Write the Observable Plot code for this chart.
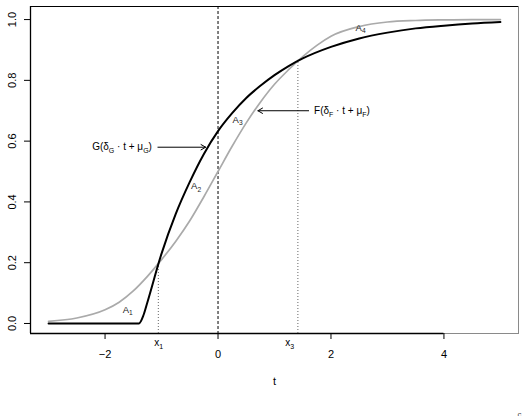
<!DOCTYPE html>
<html>
<head>
<meta charset="utf-8">
<script src="https://cdn.jsdelivr.net/npm/d3@7"></script>
<script src="https://cdn.jsdelivr.net/npm/@observablehq/plot@0.6"></script>
<style>
  html, body { margin: 0; padding: 0; background: #fff; }
</style>
</head>
<body>
<script>
// ---- data ----
const tF = [-3, -2.5, -2, -1.75, -1.5, -1.25, -1, -0.75, -0.5, -0.25, 0, 0.25, 0.5, 0.75, 1, 1.25, 1.5, 1.75, 2, 2.5, 3, 3.5, 4, 4.5, 5];
const F  = [0.007, 0.018, 0.045, 0.07, 0.107, 0.155, 0.21, 0.27, 0.338, 0.417, 0.5, 0.583, 0.66, 0.728, 0.787, 0.835, 0.878, 0.915, 0.945, 0.977, 0.992, 0.997, 0.999, 1.0, 1.0];

const tG = [-3, -2, -1.4, -1.32, -1.25, -1.0, -0.75, -0.5, -0.25, 0, 0.25, 0.5, 0.75, 1.0, 1.25, 1.5, 2.0, 2.5, 3.0, 3.5, 4.0, 4.5, 5.0];
const G  = [0, 0, 0, 0.027, 0.07, 0.23, 0.36, 0.466, 0.558, 0.633, 0.692, 0.742, 0.782, 0.817, 0.847, 0.872, 0.91, 0.938, 0.957, 0.971, 0.98, 0.987, 0.992];

const xTicks = [-2, 0, 2, 4];
const xTickLabels = ["\u22122", "0", "2", "4"];
const yTicks = [0, 0.2, 0.4, 0.6, 0.8, 1.0];
const yTickLabels = ["0.0", "0.2", "0.4", "0.6", "0.8", "1.0"];
const xDomain = [-3.32, 5.32];
const yDomain = [-0.033, 1.043];

// intersection markers
const crossT = [-1.057, 1.414];
const crossY = [0.2, 0.866];
const crossLabels = ["x_{1}", "x_{3}"];
const crossLabelT = [-1.05, 1.27];

// area labels
const areaLabels = ["A_{1}", "A_{2}", "A_{3}", "A_{4}"];
const areaT = [-1.6, -0.388, 0.347, 2.524];
const areaY = [0.046, 0.4525, 0.671, 0.974];

// curve annotations with arrows
const annLabels = ["G(\u03b4_{G} \u00b7 t + \u03bc_{G})", "F(\u03b4_{F} \u00b7 t + \u03bc_{F})"];
const annTextT = [-1.17, 1.70];
const annY = [0.58, 0.70];
const annAnchor = ["end", "start"];
const arrowFromT = [-1.064, 1.604];
const arrowToT = [-0.219, 0.706];

// ---- build tables ----
const fData = tF.map((t, i) => ({t, v: F[i]}));
const gData = tG.map((t, i) => ({t, v: G[i]}));
const crossData = crossT.map((t, i) => ({t, y: crossY[i], lab: crossLabels[i], lt: crossLabelT[i]}));
const areaData = areaLabels.map((lab, i) => ({lab, t: areaT[i], y: areaY[i]}));
const annData = annLabels.map((lab, i) => ({lab, t: annTextT[i], y: annY[i], anchor: annAnchor[i], a1: arrowFromT[i], a2: arrowToT[i]}));

const font = "'Liberation Sans', Arial, Helvetica, sans-serif";

const chart = Plot.plot({
  width: 530,
  height: 416,
  marginLeft: 30,
  marginRight: 12,
  marginTop: 6,
  marginBottom: 83,
  style: {fontFamily: font, fontSize: "11px", background: "#fff", color: "#000"},
  x: {domain: xDomain, axis: null},
  y: {domain: yDomain, axis: null},
  marks: [
    // box
    Plot.frame({stroke: "#8a8a8a", strokeWidth: 1}),
    Plot.ruleX([xDomain[0]], {stroke: "#000", strokeWidth: 1.3}),
    Plot.ruleY([yDomain[1]], {stroke: "#000", strokeWidth: 1}),
    Plot.ruleY([yDomain[0]], {x1: xDomain[0], x2: xTicks[xTicks.length - 1], stroke: "#000", strokeWidth: 1.3}),
    // axes ticks
    Plot.axisX({ticks: xTicks, tickSize: 6, tickFormat: () => "", label: null}),
    Plot.axisY({ticks: yTicks, tickSize: 6, tickFormat: () => "", label: null}),
    // tick labels
    Plot.text(xTicks, {x: d => d, text: (d, i) => xTickLabels[i], frameAnchor: "bottom", dy: 21.3, lineAnchor: "middle", fontSize: 11, fill: "#000"}),
    Plot.text(yTicks, {y: d => d, text: (d, i) => yTickLabels[i], frameAnchor: "left", dx: -18, rotate: -90, lineAnchor: "middle", textAnchor: "middle", fontSize: 11, fill: "#000"}),
    Plot.text(["t"], {frameAnchor: "bottom", dy: 47.7, lineAnchor: "middle", fontSize: 11, fill: "#000"}),
    // vertical dashed at t = 0
    Plot.ruleX([0], {stroke: "#000", strokeWidth: 1, strokeDasharray: "3,2"}),
    // dotted drops at intersections
    Plot.ruleX(crossData, {x: "t", y1: yDomain[0], y2: "y", stroke: "#666", strokeWidth: 1, strokeDasharray: "1,2"}),
    Plot.text(crossData, {x: "lt", text: "lab", frameAnchor: "bottom", dy: 9, lineAnchor: "middle", fontSize: 10, fill: "#000"}),
    // curves
    Plot.line(fData, {x: "t", y: "v", stroke: "#aaaaaa", strokeWidth: 1.7, curve: "monotone-x"}),
    Plot.line(gData, {x: "t", y: "v", stroke: "#000", strokeWidth: 2, curve: "monotone-x"}),
    // area labels
    Plot.text(areaData, {x: "t", y: "y", text: "lab", fontSize: 9.5, fill: "#222", lineAnchor: "middle"}),
    // annotations + arrows
    Plot.arrow(annData, {x1: "a1", x2: "a2", y1: "y", y2: "y", stroke: "#000", strokeWidth: 1, headLength: 8, headAngle: 60}),
    Plot.text(annData.filter(d => d.anchor === "end"), {x: "t", y: "y", text: "lab", textAnchor: "end", lineAnchor: "middle", fontSize: 10, fill: "#000"}),
    Plot.text(annData.filter(d => d.anchor === "start"), {x: "t", y: "y", text: "lab", textAnchor: "start", lineAnchor: "middle", fontSize: 10, fill: "#000"}),
    // tiny glyph at the bottom-right edge (clipped in the reference too)
    Plot.text(["c"], {frameAnchor: "bottom-right", dx: 3, dy: 80.5, lineAnchor: "middle", fontSize: 8, fill: "#444"})
  ]
});

// turn "_{..}" markup into subscripts
const NS = "http://www.w3.org/2000/svg";
chart.querySelectorAll("text").forEach(el => {
  const s = el.textContent;
  if (!s.includes("_{")) return;
  while (el.firstChild) el.removeChild(el.firstChild);
  const re = /_\{([^}]*)\}/g;
  let last = 0, m, shifted = false;
  while ((m = re.exec(s))) {
    if (m.index > last) {
      const ts = document.createElementNS(NS, "tspan");
      ts.textContent = s.slice(last, m.index);
      if (shifted) ts.setAttribute("dy", "-0.3em");
      shifted = false;
      el.appendChild(ts);
    }
    const sub = document.createElementNS(NS, "tspan");
    sub.textContent = m[1];
    sub.setAttribute("font-size", "70%");
    sub.setAttribute("dy", shifted ? "0" : "0.43em");
    shifted = true;
    el.appendChild(sub);
    last = re.lastIndex;
  }
  if (last < s.length) {
    const ts = document.createElementNS(NS, "tspan");
    ts.textContent = s.slice(last);
    if (shifted) ts.setAttribute("dy", "-0.3em");
    el.appendChild(ts);
  }
});

document.body.appendChild(chart);
</script>
</body>
</html>
